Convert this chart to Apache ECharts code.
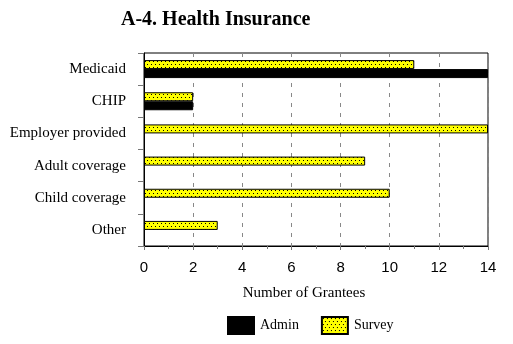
<!DOCTYPE html>
<html><head><meta charset="utf-8">
<script src="https://cdn.jsdelivr.net/npm/echarts@6/dist/echarts.min.js"></script>
<style>html,body{margin:0;padding:0;background:#fff}#c{width:513px;height:344px}</style>
</head><body><div id="c"></div>
<script>
const categories = ['Medicaid','CHIP','Employer provided','Adult coverage','Child coverage','Other'];
const surveyValues = [11, 2, 14, 9, 10, 3];
const adminValues = [14, 2, null, null, null, null];
const xTicks = [0, 2, 4, 6, 8, 10, 12, 14];

function dotPattern(){
  const c = document.createElement('canvas');
  c.width = 8; c.height = 6;
  const g = c.getContext('2d');
  g.fillStyle = '#ffff00'; g.fillRect(0,0,8,6);
  g.fillStyle = '#000';
  g.fillRect(1,1,1,1); g.fillRect(5,1,1,1);
  g.fillRect(3,4,1,1); g.fillRect(7,4,1,1);
  return c;
}
const pat = {image: dotPattern(), repeat: 'repeat'};
const serif = 'Liberation Serif';

const chart = echarts.init(document.getElementById('c'), null, {renderer:'canvas'});
chart.setOption({
  animation:false,
  title:{text:'A-4. Health Insurance', left:116, top:5,
    textStyle:{fontFamily:serif, fontWeight:'bold', fontSize:20, color:'#000'}},
  legend:{bottom:4, left:222, itemWidth:26, itemHeight:17, itemGap:22, icon:'rect',
    data:['Admin','Survey'],
    textStyle:{fontFamily:serif, fontSize:14, color:'#000', padding:[0,0,0,1]}},
  grid:{left:144, right:25, top:53, bottom:98, show:true, borderColor:'#000', borderWidth:1},
  xAxis:{type:'value', min:xTicks[0], max:xTicks[xTicks.length-1], interval:2,
    name:'Number of Grantees', nameLocation:'middle', nameGap:40,
    nameTextStyle:{fontFamily:serif, fontSize:15, color:'#000', padding:[0,24,0,0]},
    axisLine:{show:true, lineStyle:{color:'#000'}},
    axisTick:{show:true, length:4, lineStyle:{color:'#777'}},
    minorTick:{show:true, splitNumber:2, length:3, lineStyle:{color:'#777'}},
    axisLabel:{fontFamily:'Liberation Sans', fontSize:15, color:'#000', margin:14},
    splitLine:{show:true, lineStyle:{color:'#888', type:[4,6]}}},
  yAxis:{type:'category', data:categories, inverse:true,
    axisLine:{show:true, lineStyle:{color:'#000'}},
    axisTick:{show:true, length:6, lineStyle:{color:'#777'}},
    axisLabel:{fontFamily:serif, fontSize:15, color:'#000', margin:18},
    splitLine:{show:false}},
  series:[
    {name:'Survey', type:'bar', data:surveyValues, barWidth:9, barGap:'0%',
      itemStyle:{color:pat, borderColor:'#000', borderWidth:1}},
    {name:'Admin', type:'bar', data:adminValues, barWidth:9, barGap:'0%',
      itemStyle:{color:'#000', borderColor:'#000', borderWidth:1}}
  ]
});
</script></body></html>
